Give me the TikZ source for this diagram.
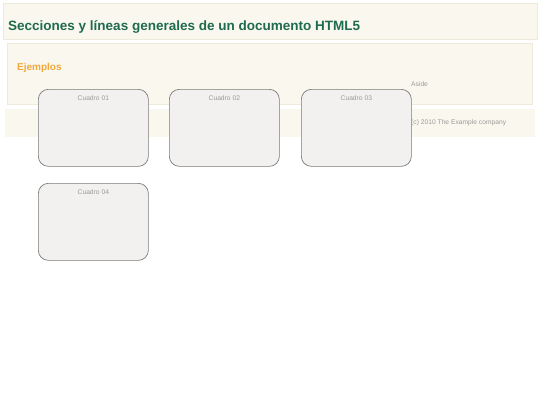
\documentclass[tikz,border=0pt]{standalone}
\usepackage{fontspec}
\setmainfont{Liberation Sans}
\usetikzlibrary{positioning}
\definecolor{crema}{HTML}{FAF8EE}
\definecolor{cremaborde}{HTML}{EFEBDC}
\definecolor{verde}{HTML}{1E6B4F}
\definecolor{naranja}{HTML}{F2A93B}
\definecolor{gris}{HTML}{9A9A9A}
\definecolor{cuadrofondo}{HTML}{F2F1EF}
\definecolor{cuadroborde}{HTML}{7A7A7A}
\tikzset{
	banda/.style={fill=crema,draw=cremaborde,line width=0.6pt,inner sep=0pt,anchor=north west},
	cuadro/.style={rectangle,rounded corners=10pt,fill=cuadrofondo,draw=cuadroborde,line width=0.7pt,minimum width=110pt,minimum height=77pt,inner sep=0pt,anchor=north west},
	rotulo/.style={text=gris,font=\fontsize{6.7}{7}\selectfont,inner sep=0pt}
}
\begin{document}
\begin{tikzpicture}[x=1pt,y=-1pt]
			\useasboundingbox (0,0) rectangle (540,405);
			\begin{scope}[every node/.style={banda}]
				\node[minimum width=534pt,minimum height=35.5pt] (cabecera) at (3,3) {};
				\node[minimum width=525pt,minimum height=61pt] (seccion) at (7,43) {};
				\node[draw=none,minimum width=530pt,minimum height=28pt] (pie) at (5,109) {};
			\end{scope}
			
			\node[anchor=base west,inner sep=0pt,text=verde,font=\fontsize{13.5}{15}\selectfont\bfseries] (titulo) at (8,30) {Secciones y líneas generales de un documento HTML5};
			\node[anchor=base west,inner sep=0pt,text=naranja,font=\fontsize{10}{12}\selectfont\bfseries] (ejemplos) at (17,70) {Ejemplos};
			
			\begin{scope}[every node/.style={cuadro}]
				\node (c1) at (38,89) {};
				\node (c2) at (169,89) {};
				\node (c3) at (301,89) {};
				\node (c4) at (38,183) {};
			\end{scope}
			
			\begin{scope}[every node/.style={rotulo}]
				\node[below=6.5pt of c1.north] {Cuadro 01};
				\node[below=6.5pt of c2.north] {Cuadro 02};
				\node[below=6.5pt of c3.north] {Cuadro 03};
				\node[below=6.5pt of c4.north] {Cuadro 04};
				\node[anchor=west] (aside) at (411,84.5) {Aside};
				\node[anchor=west] (copy) at (411,123) {(c) 2010 The Example company};
			\end{scope}
		\end{tikzpicture}
\end{document}
